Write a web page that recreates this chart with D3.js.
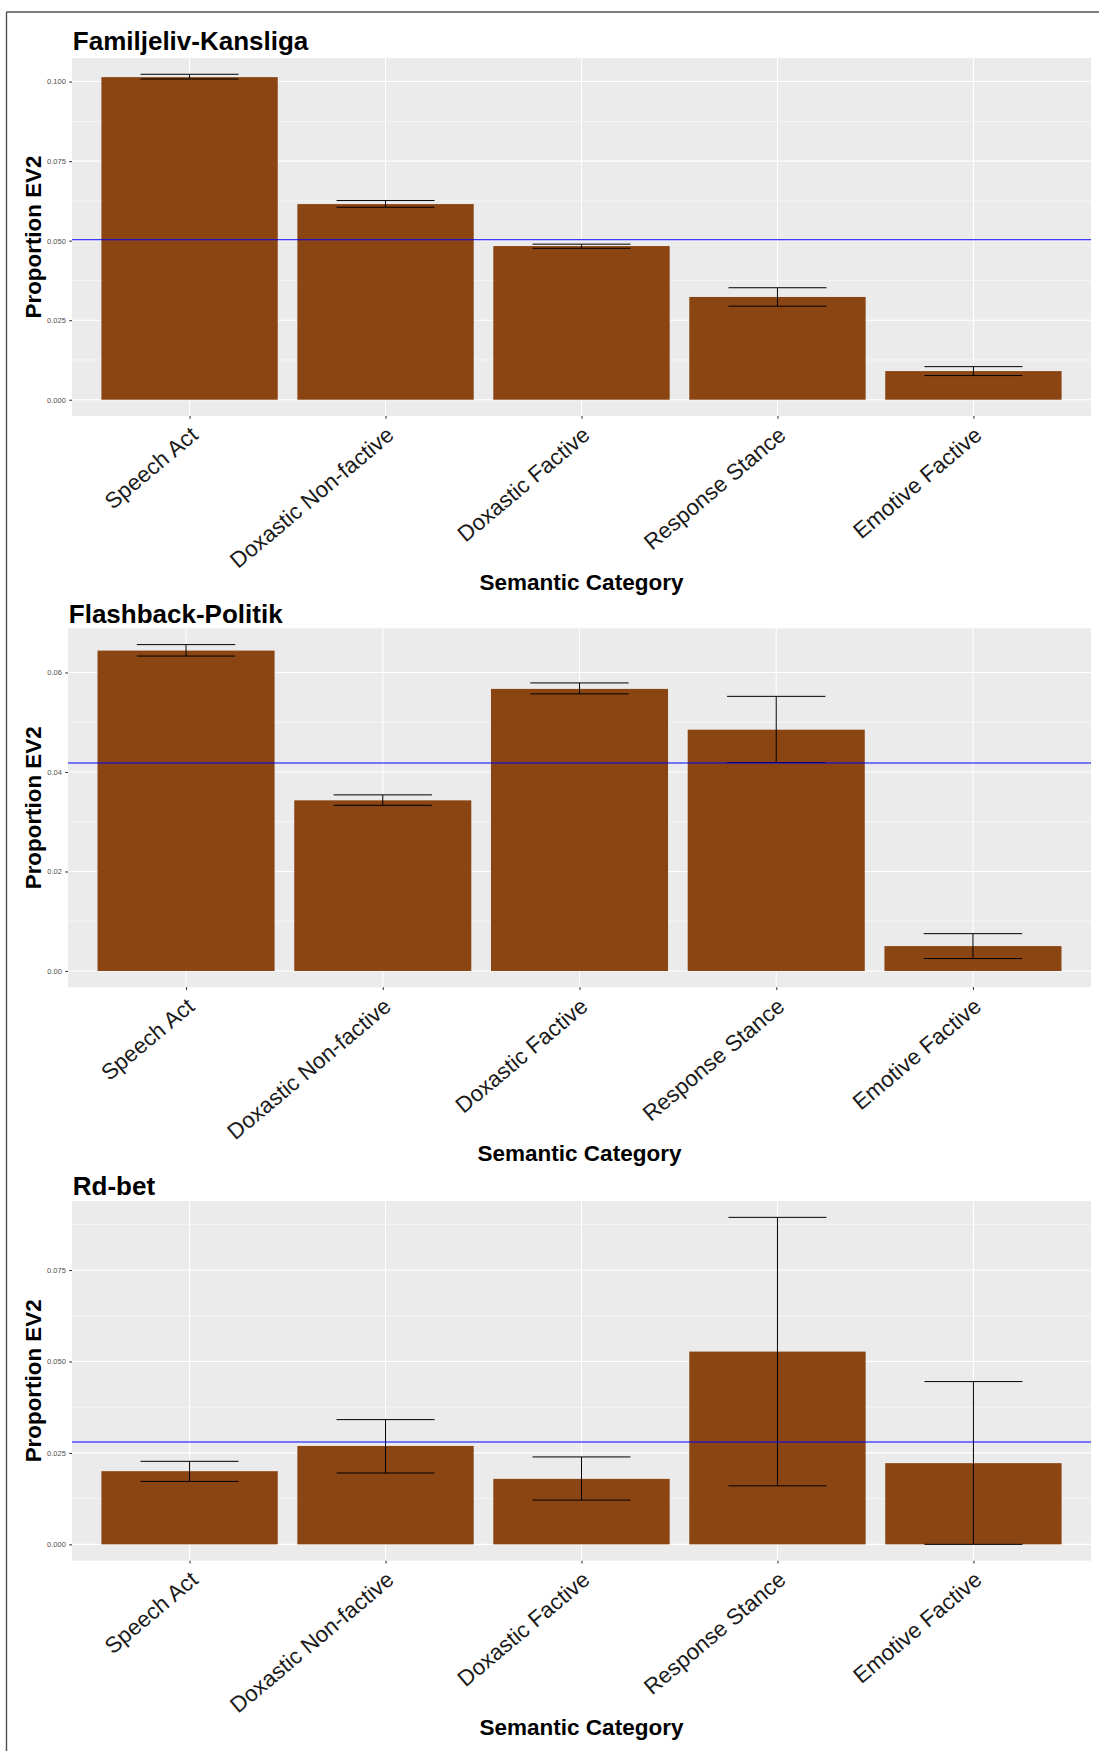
<!DOCTYPE html>
<html>
<head>
<meta charset="utf-8">
<script src="https://cdn.jsdelivr.net/npm/d3@7"></script>
<style>
  html, body { margin: 0; padding: 0; background: #fff; }
  svg { display: block; font-family: "Liberation Sans", Arial, Helvetica, sans-serif; }
</style>
</head>
<body>
<svg id="chart" width="1099" height="1751"></svg>
<script>
// ---------- data ----------
const categories = ["Speech Act", "Doxastic Non-factive", "Doxastic Factive", "Response Stance", "Emotive Factive"];

const panelTitles = ["Familjeliv-Kansliga", "Flashback-Politik", "Rd-bet"];

const familjelivValues = [0.1014, 0.0615, 0.0483, 0.0323, 0.0090];
const familjelivLower  = [0.1008, 0.0605, 0.0476, 0.0294, 0.0076];
const familjelivUpper  = [0.1023, 0.0626, 0.0489, 0.0352, 0.0104];
const familjelivMean   = 0.0503;

const flashbackValues = [0.0644, 0.0343, 0.0567, 0.0485, 0.0050];
const flashbackLower  = [0.0633, 0.0333, 0.0557, 0.0419, 0.0025];
const flashbackUpper  = [0.0656, 0.0354, 0.0579, 0.0552, 0.0075];
const flashbackMean   = 0.0418;

const rdbetValues = [0.0200, 0.0269, 0.0179, 0.0527, 0.0222];
const rdbetLower  = [0.0172, 0.0195, 0.0121, 0.0160, 0.0000];
const rdbetUpper  = [0.0227, 0.0341, 0.0239, 0.0894, 0.0445];
const rdbetMean   = 0.0280;

const familjelivTicks = [0, 0.025, 0.05, 0.075, 0.1];
const familjelivTickLabels = ["0.000", "0.025", "0.050", "0.075", "0.100"];
const flashbackTicks = [0, 0.02, 0.04, 0.06];
const flashbackTickLabels = ["0.00", "0.02", "0.04", "0.06"];
const rdbetTicks = [0, 0.025, 0.05, 0.075];
const rdbetTickLabels = ["0.000", "0.025", "0.050", "0.075"];

const xTitle = "Semantic Category";
const yTitle = "Proportion EV2";

// ---------- layout ----------
const panels = [
  { title: panelTitles[0], values: familjelivValues, lower: familjelivLower, upper: familjelivUpper, mean: familjelivMean,
    ticks: familjelivTicks, tickLabels: familjelivTickLabels, left: 72, top: 58, bottom: 416, titleY: 50 },
  { title: panelTitles[1], values: flashbackValues, lower: flashbackLower, upper: flashbackUpper, mean: flashbackMean,
    ticks: flashbackTicks, tickLabels: flashbackTickLabels, left: 68, top: 628.3, bottom: 987.3, titleY: 622.7 },
  { title: panelTitles[2], values: rdbetValues, lower: rdbetLower, upper: rdbetUpper, mean: rdbetMean,
    ticks: rdbetTicks, tickLabels: rdbetTickLabels, left: 72, top: 1201, bottom: 1560.7, titleY: 1195 }
];
const right = 1091;
const barFill = "#8B4513";
const panelBg = "#EBEBEB";

const svg = d3.select("#chart");

// outer frame (top and left edges)
svg.append("line").attr("x1", 6.5).attr("x2", 1099).attr("y1", 12).attr("y2", 12)
  .attr("stroke", "#505050").attr("stroke-width", 1.4);
svg.append("line").attr("x1", 6.5).attr("x2", 6.5).attr("y1", 12).attr("y2", 1751)
  .attr("stroke", "#505050").attr("stroke-width", 1.4);

panels.forEach(p => {
  const g = svg.append("g");
  const maxV = d3.max(p.upper);
  const y = d3.scaleLinear().domain([-0.05 * maxV, 1.05 * maxV]).range([p.bottom, p.top]);
  const x = d3.scalePoint().domain(categories).range([p.left, right]).padding(0.6);
  const step = x.step();

  // panel background
  g.append("rect").attr("x", p.left).attr("y", p.top)
    .attr("width", right - p.left).attr("height", p.bottom - p.top).attr("fill", panelBg);

  // minor gridlines
  const minor = [];
  const tstep = p.ticks[1] - p.ticks[0];
  for (let i = 0; i < p.ticks.length + 1; i++) {
    const v = p.ticks[0] + tstep * (i + 0.5);
    if (y(v) > p.top) minor.push(v);
  }
  g.selectAll(".minor").data(minor).join("line")
    .attr("x1", p.left).attr("x2", right)
    .attr("y1", d => y(d)).attr("y2", d => y(d))
    .attr("stroke", "#fff").attr("stroke-width", 0.55);

  // major gridlines
  g.selectAll(".major").data(p.ticks).join("line")
    .attr("x1", p.left).attr("x2", right)
    .attr("y1", d => y(d)).attr("y2", d => y(d))
    .attr("stroke", "#fff").attr("stroke-width", 1.07);
  g.selectAll(".vmajor").data(categories).join("line")
    .attr("x1", d => x(d)).attr("x2", d => x(d))
    .attr("y1", p.top).attr("y2", p.bottom)
    .attr("stroke", "#fff").attr("stroke-width", 1.07);

  // bars
  g.selectAll(".bar").data(categories).join("rect")
    .attr("x", d => x(d) - step * 0.45)
    .attr("width", step * 0.9)
    .attr("y", (d, i) => y(p.values[i]))
    .attr("height", (d, i) => y(0) - y(p.values[i]))
    .attr("fill", barFill);

  // error bars
  const eb = g.selectAll(".eb").data(categories).join("g");
  eb.append("line")
    .attr("x1", d => x(d)).attr("x2", d => x(d))
    .attr("y1", (d, i) => y(p.lower[i])).attr("y2", (d, i) => y(p.upper[i]))
    .attr("stroke", "#000").attr("stroke-width", 1);
  eb.append("line")
    .attr("x1", d => x(d) - step * 0.25).attr("x2", d => x(d) + step * 0.25)
    .attr("y1", (d, i) => y(p.lower[i])).attr("y2", (d, i) => y(p.lower[i]))
    .attr("stroke", "#000").attr("stroke-width", 1);
  eb.append("line")
    .attr("x1", d => x(d) - step * 0.25).attr("x2", d => x(d) + step * 0.25)
    .attr("y1", (d, i) => y(p.upper[i])).attr("y2", (d, i) => y(p.upper[i]))
    .attr("stroke", "#000").attr("stroke-width", 1);

  // mean line
  g.append("line").attr("x1", p.left).attr("x2", right)
    .attr("y1", y(p.mean)).attr("y2", y(p.mean))
    .attr("stroke", "#0000FF").attr("stroke-width", 1.07);

  // y axis
  const yAxis = d3.axisLeft(y).tickValues(p.ticks)
    .tickFormat((d, i) => p.tickLabels[i]).tickSize(2.74).tickPadding(3.4);
  const ya = g.append("g").attr("transform", `translate(${p.left},0)`).call(yAxis);
  ya.select(".domain").remove();
  ya.selectAll(".tick line").attr("stroke", "#333333").attr("stroke-width", 1.07);
  ya.selectAll(".tick text").attr("fill", "#4D4D4D").attr("font-size", 7.5)
    .style("font-family", '"Liberation Sans", Arial, sans-serif');

  // x axis
  const xAxis = d3.axisBottom(x).tickSize(2.74).tickPadding(0);
  const xa = g.append("g").attr("transform", `translate(0,${p.bottom})`).call(xAxis);
  xa.select(".domain").remove();
  xa.selectAll(".tick line").attr("stroke", "#333333").attr("stroke-width", 1.07);
  xa.selectAll(".tick text")
    .attr("fill", "#1a1a1a")
    .attr("font-size", 22.4)
    .attr("text-anchor", "end")
    .attr("y", 0)
    .attr("transform", "translate(-1,9) rotate(-40)")
    .attr("dy", "0.72em")
    .style("font-family", '"Liberation Sans", Arial, sans-serif');

  // panel title
  g.append("text").attr("x", p.left + 0.8).attr("y", p.titleY)
    .attr("font-size", 26).attr("font-weight", "bold").attr("fill", "#000")
    .text(p.title);

  // axis titles
  g.append("text").attr("x", (p.left + right) / 2).attr("y", p.bottom + 174)
    .attr("text-anchor", "middle").attr("font-size", 22.5).attr("font-weight", "bold").attr("fill", "#000")
    .text(xTitle);
  g.append("text")
    .attr("transform", `translate(41,${(p.top + p.bottom) / 2}) rotate(-90)`)
    .attr("text-anchor", "middle").attr("font-size", 22.4).attr("font-weight", "bold").attr("fill", "#000")
    .text(yTitle);
});
</script>
</body>
</html>
